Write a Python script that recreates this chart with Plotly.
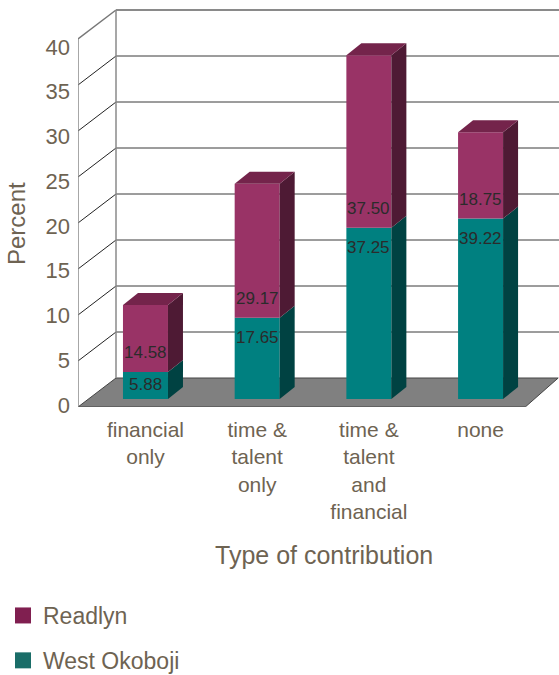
import plotly.graph_objects as go

categories = ["financial<br>only", "time &<br>talent<br>only", "time &<br>talent<br>and<br>financial", "none"]
readlyn = [14.58, 29.17, 37.50, 18.75]
west_okoboji = [5.88, 17.65, 37.25, 39.22]
y_ticks = [0, 5, 10, 15, 20, 25, 30, 35, 40]

# displayed heights: stacked values scaled to mean of the two groups
teal_h = [v / 2 for v in west_okoboji]
maroon_h = [v / 2 for v in readlyn]

# colours
MAROON = "#993366"; MAROON_SIDE = "#4e1a34"; MAROON_TOP = "#74244b"
TEAL = "#008080"; TEAL_SIDE = "#004242"
TXT = "#6e6352"

# 3D geometry (axis units)
PX_X = 111.7   # px per category unit
PX_Y = 9.2     # px per percent unit
WALL_DX = 38 / PX_X
WALL_DY = 29 / PX_Y
BAR_DX = 15 / PX_X
BAR_DY = 12 / PX_Y
BAR_OFF = 8 / PX_Y
BAR_W = 45 / PX_X
X0 = -0.604
X1 = X0 + 481 / PX_X
Y2_TOP = 402 / PX_Y
TICK_PX = 8.95

xs = list(range(len(categories)))
fig = go.Figure()

fig.add_trace(go.Bar(x=xs, y=teal_h, base=[BAR_OFF] * 4, width=BAR_W,
                     marker=dict(color=TEAL, line=dict(width=0)),
                     yaxis="y2", showlegend=False, hoverinfo="skip"))
fig.add_trace(go.Bar(x=xs, y=maroon_h, base=[BAR_OFF + t for t in teal_h], width=BAR_W,
                     marker=dict(color=MAROON, line=dict(width=0)),
                     yaxis="y2", showlegend=False, hoverinfo="skip"))

# legend entries
fig.add_trace(go.Scatter(x=[None], y=[None], mode="markers", name="Readlyn",
                         marker=dict(symbol="square", size=16, color="#801f50"),
                         legendgroup="a", legendrank=1))
fig.add_trace(go.Scatter(x=[None], y=[None], mode="markers", name="West Okoboji",
                         marker=dict(symbol="square", size=16, color="#1a6d68"),
                         legendgroup="b", legendrank=2))

shapes = []
def poly(pts, fill, line_color=None, width=0, layer="below"):
    p = "M " + " L ".join(f"{x},{y}" for x, y in pts) + " Z"
    shapes.append(dict(type="path", path=p, xref="x", yref="y2", fillcolor=fill,
                       line=dict(color=line_color or fill, width=width), layer=layer))
def seg(xa, ya, xb, yb, color, width=1, layer="below"):
    shapes.append(dict(type="line", x0=xa, y0=ya, x1=xb, y1=yb, xref="x", yref="y2",
                       line=dict(color=color, width=width), layer=layer))

# floor
FR = 3.40
poly([(X0, 0), (FR, 0), (FR + 0.295, WALL_DY), (X0 + WALL_DX, WALL_DY)], "#808080", "#444444", 1)
# grid lines on back and left walls
top = y_ticks[-1]
for v in y_ticks[1:-1]:
    seg(X0 + WALL_DX, v + WALL_DY, X1 + 0.1, v + WALL_DY, "#3a3a3a", 1)
    seg(X0, v, X0 + WALL_DX, v + WALL_DY, "#222222", 1)
seg(X0 + WALL_DX, top + WALL_DY, X1 + 0.1, top + WALL_DY, "#8a8a8a", 2)
seg(X0, top, X0 + WALL_DX, top + WALL_DY, "#777777", 1.5)
seg(X0, 0, X0, top, "#8a8a8a", 1.5)
seg(X0 + WALL_DX, WALL_DY, X0 + WALL_DX, top + WALL_DY, "#8a8a8a", 1.5)

# bar side and top faces
for i in xs:
    xr = i + BAR_W / 2
    xl = i - BAR_W / 2
    b0 = BAR_OFF
    b1 = BAR_OFF + teal_h[i]
    b2 = b1 + maroon_h[i]
    poly([(xr, b0), (xr + BAR_DX, b0 + BAR_DY), (xr + BAR_DX, b1 + BAR_DY), (xr, b1)], TEAL_SIDE, layer="above")
    poly([(xr, b1), (xr + BAR_DX, b1 + BAR_DY), (xr + BAR_DX, b2 + BAR_DY), (xr, b2)], MAROON_SIDE, layer="above")
    poly([(xl, b2), (xr, b2), (xr + BAR_DX, b2 + BAR_DY), (xl + BAR_DX, b2 + BAR_DY)], MAROON_TOP, layer="above")

annotations = []
for i in xs:
    b1 = BAR_OFF + teal_h[i]
    seg_px = teal_h[i] * PX_Y
    annotations.append(dict(x=i, y=b1, xref="x", yref="y2", text=f"{west_okoboji[i]:.2f}",
                            showarrow=False, yshift=-min(20, seg_px * 0.45),
                            font=dict(size=17, color="#2b2b2b")))
    annotations.append(dict(x=i, y=b1, xref="x", yref="y2", text=f"{readlyn[i]:.2f}",
                            showarrow=False, yshift=19,
                            font=dict(size=17, color="#2b2b2b")))
annotations.append(dict(x=(324 - 78) / 481, y=(407 - 555) / 402, xref="paper", yref="paper",
                        xanchor="center", yanchor="middle",
                        text="Type of contribution", showarrow=False,
                        font=dict(size=25, color=TXT)))
annotations.append(dict(x=(16 - 78) / 481, y=(407 - 224) / 402, xref="paper", yref="paper",
                        xanchor="center", yanchor="middle",
                        text="Percent", textangle=-90, showarrow=False,
                        font=dict(size=24, color=TXT)))

fig.update_layout(
    width=559, height=675,
    margin=dict(l=78, r=0, t=5, b=268, autoexpand=False),
    paper_bgcolor="white", plot_bgcolor="white",
    font=dict(family="Liberation Sans, Arial, sans-serif", color=TXT),
    barmode="overlay",
    shapes=shapes, annotations=annotations,
    xaxis=dict(range=[X0, X1], tickvals=xs, ticktext=categories, showgrid=False,
               zeroline=False, showline=False, ticks="", tickfont=dict(size=21, color=TXT),
               ticklabelstandoff=8, automargin=False),
    yaxis=dict(range=[-2 / TICK_PX, 400 / TICK_PX], tickvals=y_ticks, showgrid=False, zeroline=False,
               showline=False, ticks="", tickfont=dict(size=22, color=TXT), ticklabelstandoff=7,
               automargin=False),
    yaxis2=dict(range=[0, Y2_TOP], overlaying="y", visible=False),
    legend=dict(xref="paper", yref="paper", x=(3 - 78) / 481, y=(407 - 594) / 402,
                xanchor="left", yanchor="top", font=dict(size=23, color=TXT),
                traceorder="grouped", tracegroupgap=12, itemsizing="trace"),
    showlegend=True,
)

fig.write_html("out.html")
